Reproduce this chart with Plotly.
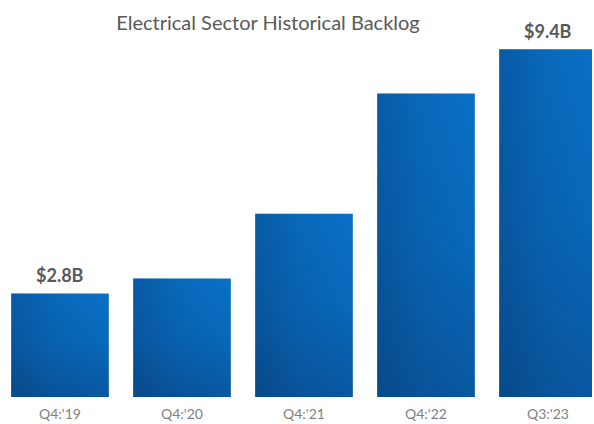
import plotly.graph_objects as go

# Backlog by period, in billions of dollars
periods = ["Q4:'19", "Q4:'20", "Q4:'21", "Q4:'22", "Q3:'23"]
backlog_b = [2.8, 3.2, 4.95, 8.2, 9.4]
labelled = [True, False, False, False, True]

BAR_W = 0.8
BASE_COLOR = "#0870c6"
SHADE = "8,36,80"

xs = list(range(len(periods)))
fig = go.Figure()

# solid bars
fig.add_trace(go.Bar(
    x=xs, y=backlog_b, width=BAR_W,
    marker=dict(color=BASE_COLOR, line=dict(width=0)),
    hoverinfo="skip", showlegend=False,
))

# shading overlays: darker toward the bottom and toward the left of each bar
for x, v in zip(xs, backlog_b):
    px = [x - BAR_W / 2, x + BAR_W / 2, x + BAR_W / 2, x - BAR_W / 2, x - BAR_W / 2]
    py = [0, 0, v, v, 0]
    fig.add_trace(go.Scatter(
        x=px, y=py, mode="lines", fill="toself", line=dict(width=0),
        fillgradient=dict(type="vertical",
                          colorscale=[[0, f"rgba({SHADE},0.32)"], [0.5, f"rgba({SHADE},0.1)"],
                                      [1, f"rgba({SHADE},0)"]]),
        hoverinfo="skip", showlegend=False,
    ))
    fig.add_trace(go.Scatter(
        x=px, y=py, mode="lines", fill="toself", line=dict(width=0),
        fillgradient=dict(type="horizontal",
                          colorscale=[[0, f"rgba({SHADE},0.28)"], [0.45, f"rgba({SHADE},0.1)"],
                                      [1, f"rgba({SHADE},0)"]]),
        hoverinfo="skip", showlegend=False,
    ))

# value labels on the first and latest bars
for x, v, show in zip(xs, backlog_b, labelled):
    if show:
        fig.add_annotation(
            x=x, y=v, text=f"<b>${v:g}B</b>", showarrow=False,
            yanchor="bottom", yshift=5,
            font=dict(family="Lato, sans-serif", size=18, color="#595959"),
        )

r0 = -60 / 122
fig.update_layout(
    width=594, height=424,
    margin=dict(l=0, r=2, t=30, b=27),
    paper_bgcolor="white", plot_bgcolor="white",
    title=dict(text="Electrical Sector Historical Backlog", x=268 / 594, xanchor="center",
               y=1 - 23 / 424, yanchor="middle",
               font=dict(family="Lato, sans-serif", size=20, color="#595959")),
    xaxis=dict(range=[r0, r0 + 592 / 122], tickvals=xs, ticktext=periods,
               showgrid=False, zeroline=False, showline=False, ticks="",
               ticklabelstandoff=7,
               tickfont=dict(family="Lato, sans-serif", size=14, color="#7f7f7f")),
    yaxis=dict(range=[0, 367 / 37], visible=False, showgrid=False, zeroline=False),
    showlegend=False,
)

fig.write_html("out.html")
